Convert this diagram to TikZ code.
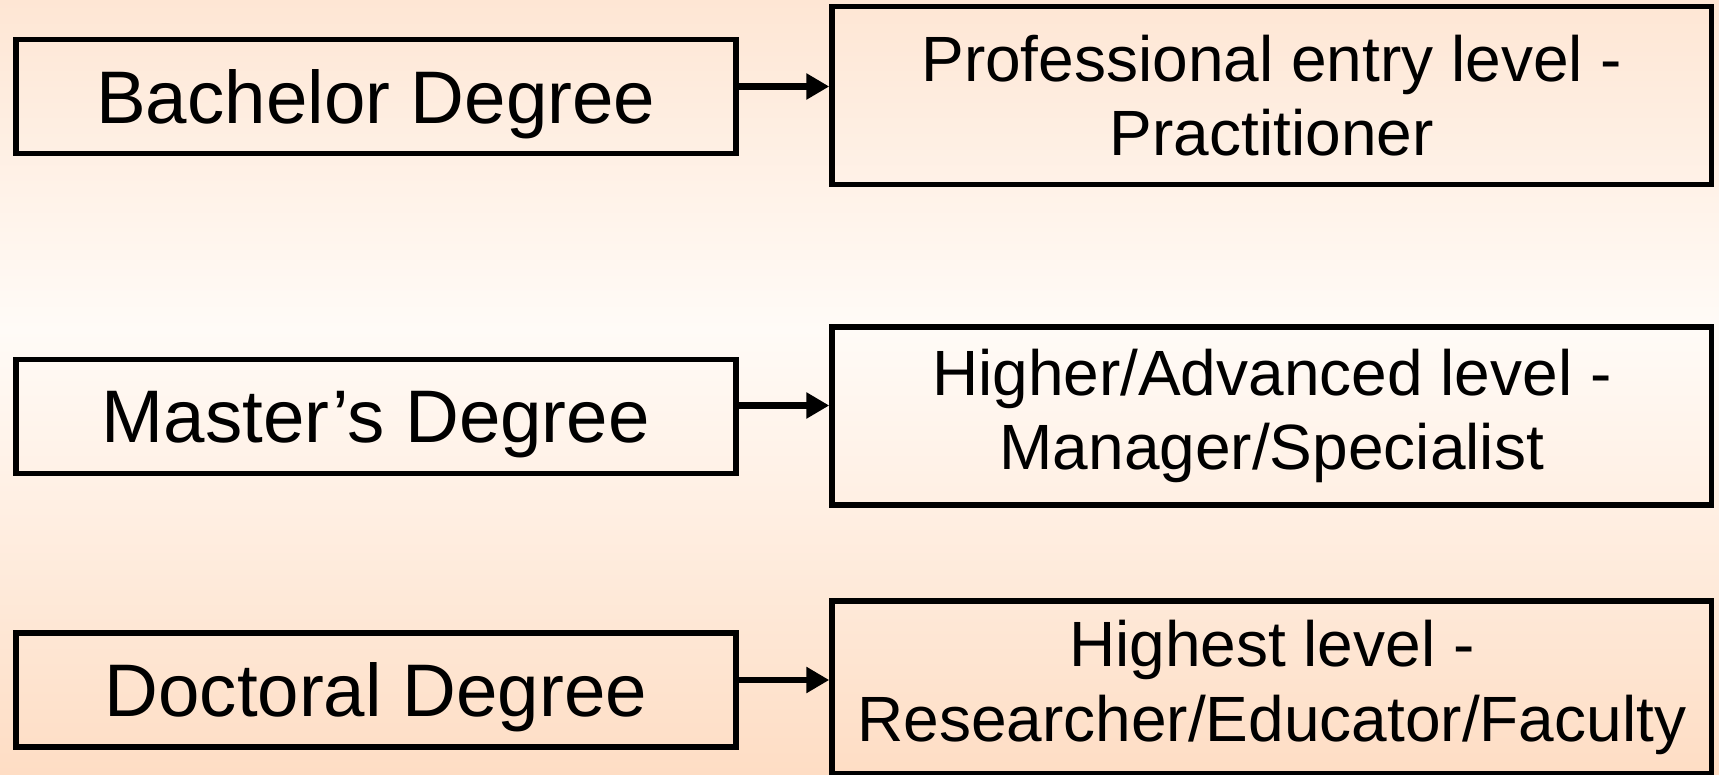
\documentclass[tikz,border=0pt]{standalone}
\usepackage{fontspec}
\setmainfont{Liberation Sans}
\usetikzlibrary{arrows.meta}
\definecolor{peachtop}{RGB}{254,230,212}
\definecolor{peachmid}{RGB}{255,251,247}
\definecolor{peachbot}{RGB}{254,221,196}
\begin{document}
\begin{tikzpicture}[x=1pt,y=-1pt,
  degbox/.style={draw=black,line width=5.5pt,minimum width=720pt,minimum height=114pt,inner sep=0pt,text depth=0pt,font=\fontsize{74.5}{86}\selectfont},
  lvlbox/.style={draw=black,line width=5.5pt,minimum width=879.5pt,minimum height=178pt,inner sep=0pt,align=center,font=\fontsize{64}{74.5}\selectfont},
  arr/.style={line width=6.5pt,-{Triangle[length=23pt,width=25pt]}}]
\useasboundingbox (0,0) rectangle (1719,775);
\clip (0,0) rectangle (1719,775);
\fill[top color=peachtop,bottom color=peachmid] (0,0) rectangle (1719,330);
\fill[top color=peachmid,bottom color=peachbot] (0,329) rectangle (1719,775);

\node[degbox] (L1) at (375.8,96.5) {Bachelor Degree};
\node[degbox] (L2) at (375.8,416.5) {Master’s Degree};
\node[degbox] (L3) at (375.8,690) {Doctoral Degree};

\node[lvlbox] (R1) at (1271.75,95.5) {Professional entry level -\\Practitioner};
\node[lvlbox] (R2) at (1271.75,416) {Higher/Advanced level -\\Manager/Specialist};
\node[lvlbox,minimum height=173pt] (R3) at (1271.75,687.5) {Highest level -\\Researcher/Educator/Faculty};

\coordinate (a1) at ([yshift=10pt]L1.east);
\coordinate (a2) at ([yshift=11pt]L2.east);
\coordinate (a3) at ([yshift=10pt]L3.east);
\draw[arr] (a1) -- (a1 -| R1.west);
\draw[arr] (a2) -- (a2 -| R2.west);
\draw[arr] (a3) -- (a3 -| R3.west);
\end{tikzpicture}
\end{document}
